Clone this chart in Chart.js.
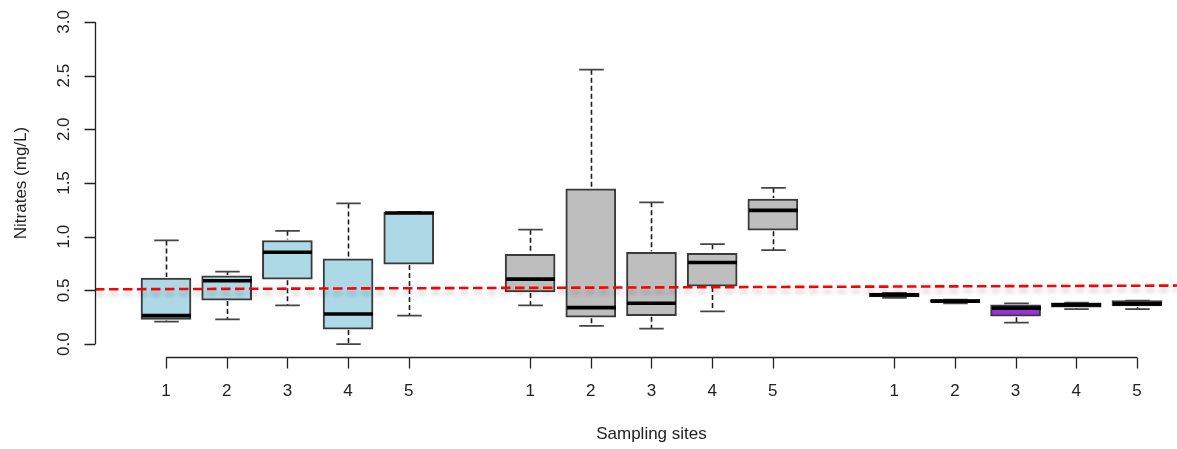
<!DOCTYPE html>
<html>
<head>
<meta charset="utf-8">
<script src="https://cdn.jsdelivr.net/npm/chart.js@4"></script>
<style>
  body { margin: 0; background: #fff; }
</style>
</head>
<body>
<canvas id="chart" width="1177" height="449"></canvas>
<script>
// three groups of five sampling sites, one slot left empty between groups
const positions = [1, 2, 3, 4, 5, 7, 8, 9, 10, 11, 13, 14, 15, 16, 17];
const siteLabels = ["1", "2", "3", "4", "5", "1", "2", "3", "4", "5", "1", "2", "3", "4", "5"];
const groupColors = ["#ADD8E6", "#BEBEBE", "#9B30DA"];

// box statistics (mg/L)
const whiskerLow = [0.21, 0.23, 0.36, 0.0, 0.265, 0.36, 0.17, 0.145, 0.305, 0.875, 0.43, 0.38, 0.2, 0.325, 0.325];
const q1 = [0.23, 0.41, 0.605, 0.14, 0.745, 0.485, 0.25, 0.265, 0.54, 1.06, 0.44, 0.388, 0.26, 0.345, 0.355];
const median = [0.265, 0.59, 0.855, 0.28, 1.22, 0.605, 0.34, 0.38, 0.76, 1.245, 0.458, 0.4, 0.335, 0.365, 0.375];
const q3 = [0.615, 0.635, 0.965, 0.795, 1.23, 0.835, 1.445, 0.855, 0.845, 1.35, 0.476, 0.414, 0.365, 0.385, 0.405];
const whiskerHigh = [0.965, 0.675, 1.055, 1.31, 1.23, 1.065, 2.555, 1.32, 0.93, 1.455, 0.476, 0.414, 0.38, 0.385, 0.405];

// reference line (drawn slightly tilted in the original)
const refLineX = [-0.17, 17.66];
const refLineY = [0.51, 0.545];

const yTicks = [0, 0.5, 1, 1.5, 2, 2.5, 3];
const yTickLabels = ["0.0", "0.5", "1.0", "1.5", "2.0", "2.5", "3.0"];

const FONT = '17px "Liberation Sans", Arial, sans-serif';
const INK = "#222";

// one bar dataset per group: the box itself is a floating bar q1..q3
const boxDatasets = groupColors.map((color, g) => ({
  type: "bar",
  data: positions.slice(g * 5, g * 5 + 5).map((pos, k) => {
    const i = g * 5 + k;
    return { x: pos, y: [q1[i], q3[i]], i: i };
  }),
  backgroundColor: color,
  borderColor: "#3a3a3a",
  borderWidth: 2,
  borderSkipped: false,
  barThickness: 50,
  grouped: false,
  order: 1,
}));

const refLine = {
  type: "line",
  data: refLineX.map((x, k) => ({ x: x, y: refLineY[k] })),
  borderColor: "#FF0000",
  borderWidth: 2.6,
  borderDash: [9.5, 4.5],
  pointRadius: 0,
  order: 0,
  isRef: true,
};

const boxplotPlugin = {
  id: "boxplotR",
  beforeDatasetDraw(chart, args) {
    const ds = chart.data.datasets[args.index];
    if (ds.isRef) {
      const ctx = chart.ctx;
      ctx.save();
      ctx.shadowColor = "rgba(0,0,0,0.2)";
      ctx.shadowBlur = 4;
      ctx.shadowOffsetY = 5;
    }
  },
  afterDatasetDraw(chart, args) {
    const ds = chart.data.datasets[args.index];
    const ctx = chart.ctx;
    if (ds.isRef) {
      ctx.restore();
      return;
    }
    const xs = chart.scales.x;
    const ys = chart.scales.y;
    const half = 24.5;
    ds.data.forEach((d) => {
      const i = d.i;
      const px = Math.round(xs.getPixelForValue(d.x)) + 0.5;
      ctx.save();
      // whiskers (dashed)
      ctx.strokeStyle = "#1a1a1a";
      ctx.lineWidth = 1.6;
      ctx.setLineDash([5, 3]);
      ctx.beginPath();
      if (whiskerHigh[i] > q3[i]) {
        ctx.moveTo(px, ys.getPixelForValue(whiskerHigh[i]));
        ctx.lineTo(px, ys.getPixelForValue(q3[i]) - 1);
      }
      if (whiskerLow[i] < q1[i]) {
        ctx.moveTo(px, ys.getPixelForValue(q1[i]) + 1);
        ctx.lineTo(px, ys.getPixelForValue(whiskerLow[i]));
      }
      ctx.stroke();
      // staples
      ctx.setLineDash([]);
      ctx.strokeStyle = "#444";
      ctx.lineWidth = 1.8;
      ctx.beginPath();
      [whiskerHigh[i], whiskerLow[i]].forEach((v) => {
        const py = ys.getPixelForValue(v);
        ctx.moveTo(px - half / 2, py);
        ctx.lineTo(px + half / 2, py);
      });
      ctx.stroke();
      // median
      ctx.strokeStyle = "#000";
      ctx.lineWidth = 3.6;
      ctx.lineCap = "butt";
      ctx.beginPath();
      const pm = ys.getPixelForValue(median[i]);
      ctx.moveTo(px - half, pm);
      ctx.lineTo(px + half, pm);
      ctx.stroke();
      ctx.restore();
    });
  },
  afterDraw(chart) {
    const ctx = chart.ctx;
    const xs = chart.scales.x;
    const ys = chart.scales.y;
    const area = chart.chartArea;
    ctx.save();
    ctx.strokeStyle = INK;
    ctx.fillStyle = INK;
    ctx.lineWidth = 1.3;
    ctx.font = FONT;

    // y axis, R style: line only between first and last tick
    const ax = Math.round(area.left) + 0.5;
    ctx.beginPath();
    ctx.moveTo(ax, ys.getPixelForValue(yTicks[0]));
    ctx.lineTo(ax, ys.getPixelForValue(yTicks[yTicks.length - 1]));
    yTicks.forEach((v) => {
      const py = Math.round(ys.getPixelForValue(v)) + 0.5;
      ctx.moveTo(ax - 11, py);
      ctx.lineTo(ax, py);
    });
    ctx.stroke();
    ctx.textAlign = "center";
    ctx.textBaseline = "middle";
    yTicks.forEach((v, k) => {
      ctx.save();
      ctx.translate(64, ys.getPixelForValue(v));
      ctx.rotate(-Math.PI / 2);
      ctx.fillText(yTickLabels[k], 0, 0);
      ctx.restore();
    });
    ctx.save();
    ctx.translate(21, (area.top + area.bottom) / 2);
    ctx.rotate(-Math.PI / 2);
    ctx.fillText("Nitrates (mg/L)", 0, 0);
    ctx.restore();

    // x axis
    const ay = Math.round(area.bottom) + 0.5;
    ctx.beginPath();
    ctx.moveTo(xs.getPixelForValue(positions[0]), ay);
    ctx.lineTo(xs.getPixelForValue(positions[positions.length - 1]), ay);
    positions.forEach((p) => {
      const px = Math.round(xs.getPixelForValue(p)) + 0.5;
      ctx.moveTo(px, ay);
      ctx.lineTo(px, ay + 11);
    });
    ctx.stroke();
    positions.forEach((p, k) => {
      ctx.fillText(siteLabels[k], xs.getPixelForValue(p), 391);
    });
    ctx.fillText("Sampling sites", xs.getPixelForValue(9), 434);
    ctx.restore();
  },
};

new Chart(document.getElementById("chart"), {
  data: { datasets: [...boxDatasets, refLine] },
  options: {
    responsive: false,
    animation: false,
    devicePixelRatio: 1,
    layout: { padding: { left: 95, right: 0, top: 9, bottom: 92 } },
    scales: {
      x: { type: "linear", min: -0.17, max: 17.66, offset: false, display: false },
      y: { type: "linear", min: -0.12, max: 3.12, display: false },
    },
    plugins: { legend: { display: false }, tooltip: { enabled: false } },
  },
  plugins: [boxplotPlugin],
});
</script>
</body>
</html>
